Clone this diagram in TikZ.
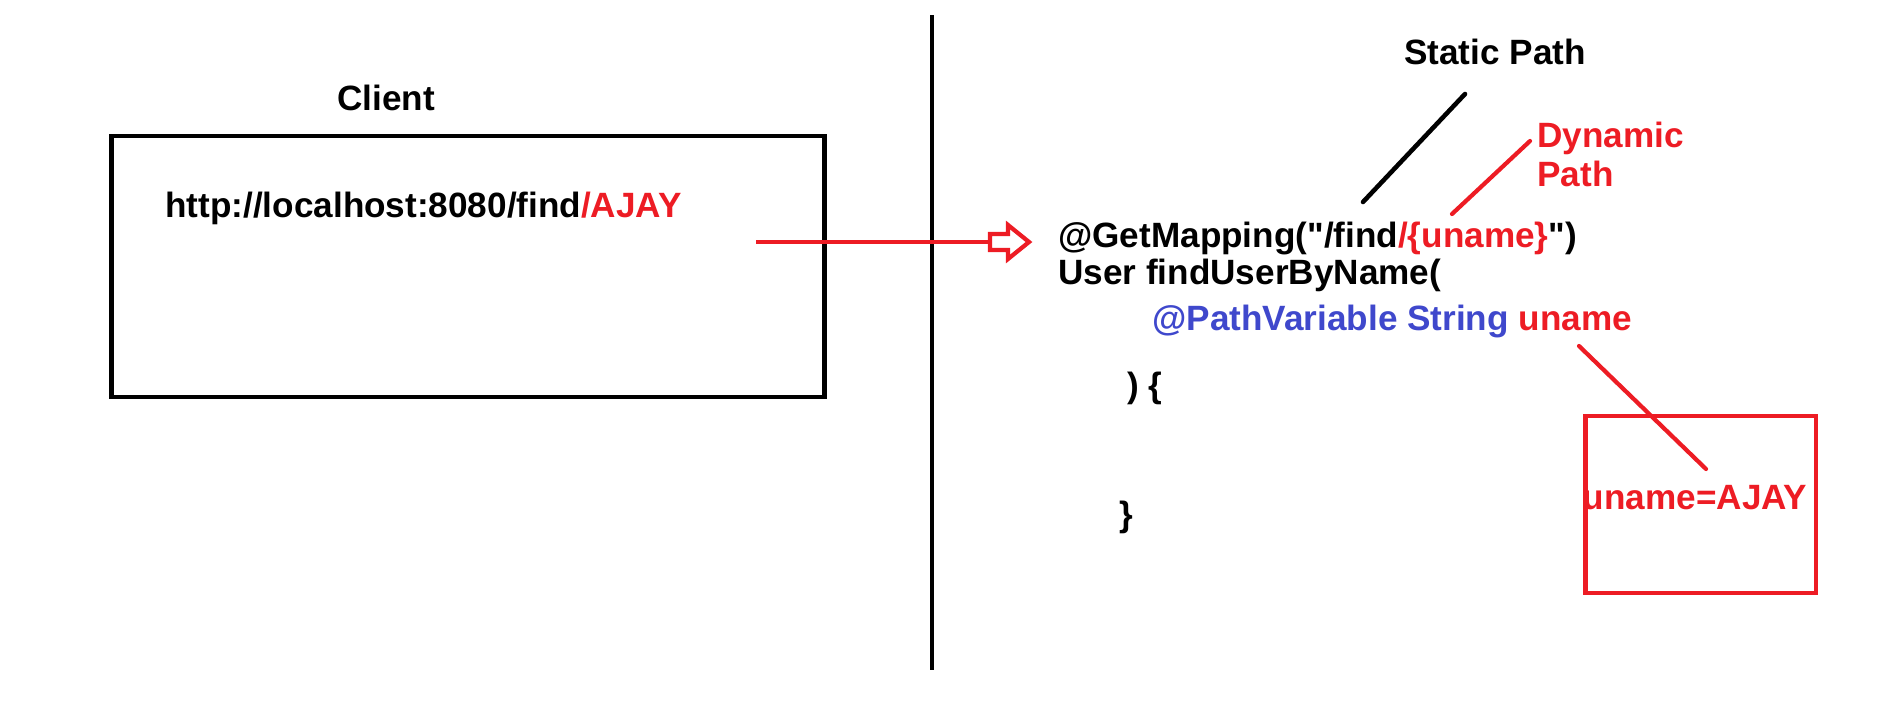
\documentclass[tikz,border=0pt]{standalone}
\usepackage{fontspec}
\setmainfont{Liberation Sans}[Ligatures=TeXOff]
\definecolor{pred}{RGB}{237,28,36}
\definecolor{pblue}{RGB}{63,72,204}
\begin{document}
\begin{tikzpicture}[x=0.02cm, y=-0.02cm, font=\fontsize{20}{24}\selectfont\bfseries,
  txt/.style={inner sep=0pt, anchor=base west},
  redline/.style={draw=pred, line width=2.4pt, line cap=round}]
\useasboundingbox (0,0) rectangle (1886,700);
\node[txt, anchor=base] (clientlbl) at (386,110) {Client};
\node[draw, rectangle, line width=2.8pt, minimum width=14.28cm, minimum height=5.22cm] (client) at (468,266.5) {};
\node[txt] (url) at (165,217) {http://localhost:8080/find\textcolor{pred}{/AJAY}};
\coordinate (divtop) at (932,15);
\coordinate (divbot) at (932,670);
\draw[line width=2.6pt] (divtop) -- (divbot);
\coordinate (reqstart) at (756,242);
\coordinate (reqtail) at (990,242);
\draw[redline, line cap=butt] (reqstart) -- (reqtail);
\draw[draw=pred, fill=white, line width=2.4pt, line join=miter] (reqtail) -- ++(0,-8) -- ++(18,0) -- ++(0,-9) -- ++(21,17) -- ++(-21,17) -- ++(0,-9) -- ++(-18,0) -- cycle;
\node[txt] (getmap) at (1058,247) {@GetMapping(\symbol{34}/find\textcolor{pred}{/\{uname\}}\symbol{34})};
\node[txt] (finduser) at (1058,284) {User findUserByName(};
\node[txt, text=pblue] (pathvar) at (1152,330) {@PathVariable String \textcolor{pred}{uname}};
\node[txt] (open) at (1127,397) {) \{};
\node[txt] (close) at (1119,526) {\}};
\node[txt, anchor=base] (static) at (1495,64) {Static Path};
\node[txt, text=pred] (dyn1) at (1537,147) {Dynamic};
\node[txt, text=pred] (dyn2) at (1537,186) {Path};
\node[draw=pred, rectangle, line width=2.8pt, minimum width=4.62cm, minimum height=3.54cm] (result) at (1700.5,504.5) {};
\node[txt, anchor=base, text=pred] (resultlbl) at (1695,509) {uname=AJAY};
\coordinate (statica) at (1363,202);
\coordinate (staticb) at (1465,94);
\draw[line width=2.6pt, line cap=round] (statica) -- (staticb);
\coordinate (dyna) at (1452,214);
\coordinate (dynb) at (1530,141);
\draw[redline] (dyna) -- (dynb);
\coordinate (unamea) at (1579,346);
\coordinate (unameb) at (1706,469);
\draw[redline] (unamea) -- (unameb);
\end{tikzpicture}
\end{document}
